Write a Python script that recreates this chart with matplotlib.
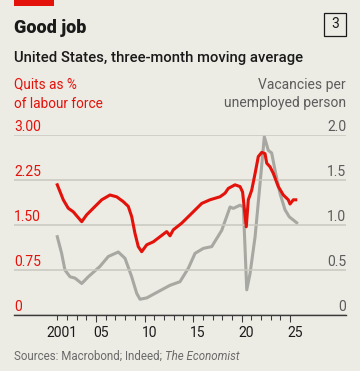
import matplotlib
matplotlib.use("Agg")
import matplotlib.pyplot as plt
import matplotlib.transforms as mtransforms
from matplotlib.patches import Rectangle

# Quits as % of labour force (left axis)
quits_year = [2001.00, 2001.62, 2002.13, 2002.65, 2003.52, 2004.03, 2004.71, 2005.58,
              2006.43, 2007.12, 2007.80, 2008.32, 2008.67, 2009.01, 2009.35, 2009.70,
              2010.22, 2010.90, 2011.59, 2012.28, 2012.62, 2012.96, 2013.82, 2014.86,
              2015.89, 2016.74, 2017.77, 2018.29, 2018.63, 2019.32, 2019.84, 2020.10,
              2020.48, 2020.69, 2021.04, 2021.39, 2021.72, 2022.07, 2022.41, 2022.59,
              2022.93, 2023.27, 2023.78, 2024.30, 2024.81, 2024.99, 2025.33, 2025.58]
quits = [2.17, 1.92, 1.78, 1.72, 1.555, 1.67, 1.78, 1.92,
         2.00, 1.97, 1.89, 1.81, 1.64, 1.36, 1.14, 1.055,
         1.17, 1.22, 1.305, 1.39, 1.32, 1.42, 1.53, 1.695,
         1.86, 1.92, 1.97, 2.03, 2.11, 2.17, 2.14, 2.05,
         1.47, 1.92, 2.08, 2.36, 2.64, 2.71, 2.69, 2.53,
         2.47, 2.36, 2.14, 2.00, 1.92, 1.85, 1.92, 1.92]

# Vacancies per unemployed person (right axis)
vac_year = [2001.00, 2001.45, 2001.79, 2002.31, 2002.82, 2003.52, 2004.20, 2005.40,
            2006.26, 2007.29, 2007.98, 2008.67, 2009.19, 2009.53, 2010.22, 2011.59,
            2012.62, 2013.65, 2014.51, 2015.20, 2016.05, 2016.92, 2017.95, 2018.81,
            2019.14, 2019.84, 2020.18, 2020.53, 2020.87, 2021.39, 2021.90, 2022.34,
            2022.75, 2023.10, 2023.44, 2023.96, 2024.47, 2024.92, 2025.33, 2025.68]
vacancies = [0.87, 0.685, 0.50, 0.425, 0.41, 0.35, 0.425, 0.54,
             0.65, 0.70, 0.63, 0.425, 0.24, 0.175, 0.19, 0.27,
             0.33, 0.37, 0.52, 0.685, 0.74, 0.76, 0.94, 1.20,
             1.185, 1.22, 1.20, 0.28, 0.46, 0.87, 1.46, 1.98,
             1.83, 1.80, 1.61, 1.35, 1.17, 1.09, 1.055, 1.025]

quits_ticks = [0, 0.75, 1.5, 2.25, 3.0]
quits_labels = ["0", "0.75", "1.50", "2.25", "3.00"]
vac_ticks = [0, 0.5, 1.0, 1.5, 2.0]
vac_labels = ["0", "0.5", "1.0", "1.5", "2.0"]
year_ticks = list(range(2001, 2026))
label_years = [2001, 2005, 2010, 2015, 2020, 2025]
year_labels = ["2001", "05", "10", "15", "20", "25"]

BG = "#ECEBE4"
RED = "#E3120B"
GREY_LINE = "#A8A8A2"
GRID = "#C8C8C1"
DARK = "#1A1A1A"
MID = "#5C5C5C"

plt.rcParams["font.family"] = ["Roboto", "DejaVu Sans"]

W, H = 360, 371
fig = plt.figure(figsize=(W / 100, H / 100), dpi=100)
fig.patch.set_facecolor(BG)

ax = fig.add_axes([14 / W, 56 / H, 332 / W, 180 / H])
ax2 = ax.twinx()
ax.set_zorder(ax2.get_zorder() + 1)
ax.patch.set_visible(False)
ax2.set_facecolor(BG)

ax2.plot(vac_year, vacancies, color=GREY_LINE, lw=2.2, solid_joinstyle="round")
ax.plot(quits_year, quits, color=RED, lw=2.2, solid_joinstyle="round")

ax.set_xlim(1996.54, 2030.76)
ax.set_ylim(0, 3)
ax2.set_ylim(0, 2)

for a in (ax, ax2):
    for s in a.spines.values():
        s.set_visible(False)
    a.tick_params(axis="y", length=0, labelleft=False, labelright=False)
ax2.set_yticks(vac_ticks)
ax.set_yticks(quits_ticks)
ax.yaxis.grid(True, color=GRID, lw=1.1)
ax.set_axisbelow(True)
ax.spines["bottom"].set_visible(True)
ax.spines["bottom"].set_color("#3A3A3A")
ax.spines["bottom"].set_linewidth(1.0)
ax.spines["bottom"].set_zorder(5)

# x ticks: small marks for each year, labels centred on the year
ax.set_xticks(year_ticks)
ax.tick_params(axis="x", which="major", length=3.6, width=0.75, color="#3A3A3A",
               labelbottom=False)
ax.set_xticks([y + 0.5 for y in label_years], minor=True)
ax.set_xticklabels(year_labels, minor=True)
ax.tick_params(axis="x", which="minor", length=0, pad=8, labelsize=10, labelcolor=DARK)
sec = ax.secondary_xaxis("bottom")
sec.set_xticks([y for y in label_years if y % 5 == 0])
sec.tick_params(length=5.2, width=0.75, color="#3A3A3A", labelbottom=False)
sec.spines["bottom"].set_visible(False)

# y labels sitting on the gridlines
tl = mtransforms.blended_transform_factory(ax.transAxes, ax.transData)
tr = mtransforms.blended_transform_factory(ax2.transAxes, ax2.transData)
shift = mtransforms.ScaledTranslation(0, 4 / 100, fig.dpi_scale_trans)
for v, lab in zip(quits_ticks, quits_labels):
    ax.text(0, v, lab, transform=tl + shift, ha="left", va="baseline",
            fontsize=10, color=RED)
for v, lab in zip(vac_ticks, vac_labels):
    ax2.text(1, v, lab, transform=tr + shift, ha="right", va="baseline",
             fontsize=10, color=MID)

def fy(px):
    return 1 - px / H

fig.patches.append(Rectangle((14 / W, fy(5.7)), 40 / W, 5.7 / H,
                             transform=fig.transFigure, color=RED, lw=0))
fig.text(14 / W, fy(33.3), "Good job", fontsize=13, fontweight="heavy",
         color=DARK, va="baseline")
fig.patches.append(Rectangle((324 / W, fy(35.7)), 21.7 / W, 22.4 / H,
                             transform=fig.transFigure, fill=False,
                             edgecolor=DARK, lw=0.9))
fig.text(334.9 / W, fy(24.5), "3", fontsize=10, color=DARK, ha="center", va="center")
fig.text(14 / W, fy(61.7), "United States, three-month moving average",
         fontsize=10.7, fontweight="medium", color=DARK, va="baseline")
fig.text(14 / W, fy(88.5), "Quits as %", fontsize=9.8, color=RED, va="baseline")
fig.text(14 / W, fy(107.5), "of labour force", fontsize=9.8, color=RED, va="baseline")
fig.text(346 / W, fy(88.5), "Vacancies per", fontsize=10, color=MID,
         va="baseline", ha="right")
fig.text(346 / W, fy(107.5), "unemployed person", fontsize=10, color=MID,
         va="baseline", ha="right")

src = fig.text(14 / W, fy(360), "Sources: Macrobond; Indeed; ", fontsize=8.3,
               color="#6A6A6A", va="baseline")
fig.canvas.draw()
bb = src.get_window_extent(renderer=fig.canvas.get_renderer())
fig.text(bb.x1 / W, fy(360), "The Economist", fontsize=8.3, color="#6A6A6A",
         va="baseline", style="italic")

fig.savefig("out.png", dpi=100, facecolor=BG)
